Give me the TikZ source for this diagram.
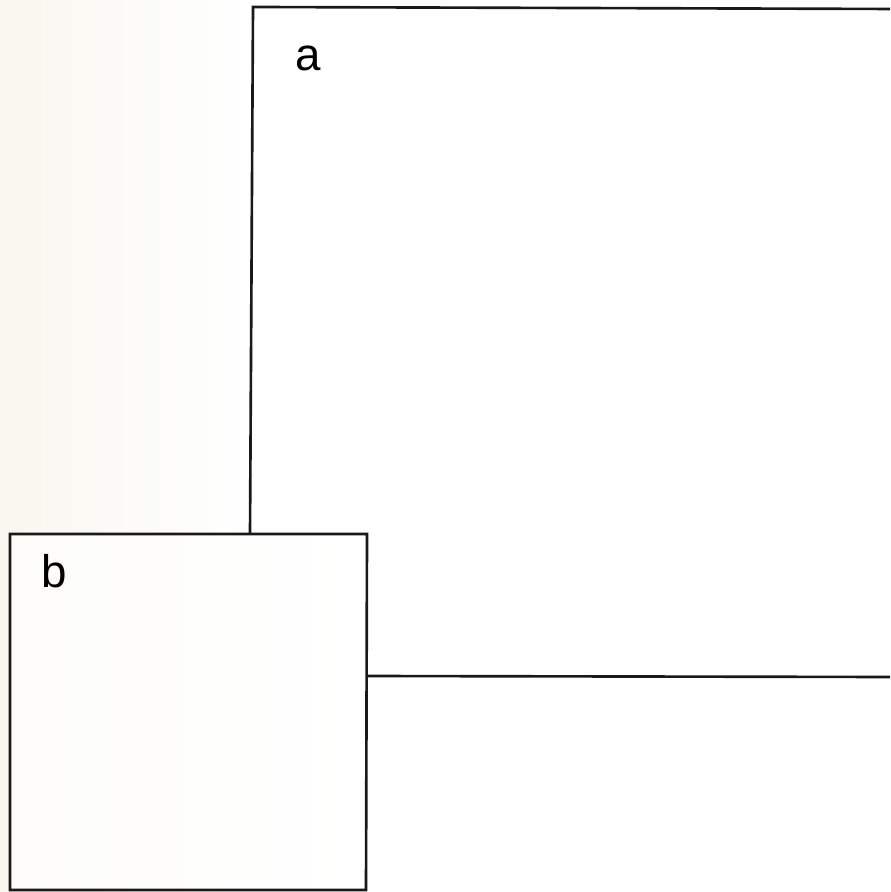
\documentclass[tikz,border=0pt]{standalone}
\usepackage{fontspec}
\setmainfont{Liberation Sans}
\definecolor{paper}{RGB}{248,246,238}
\definecolor{paperlight}{RGB}{253,252,249}
\begin{document}
\begin{tikzpicture}[x=0.01cm,y=-0.01cm,
  edge/.style={draw=black!90, line width=0.75pt, line join=miter},
  lbl/.style={font=\fontsize{13}{15}\selectfont, inner sep=0pt}]
\useasboundingbox (0,0) rectangle (890,892);
\clip (0,0) rectangle (890,892);
\fill[white] (0,0) rectangle (890,892);
\shade[left color=paper, right color=white] (0,0) rectangle (250,892);
% big box a
\coordinate (aTL) at (253,7);
\coordinate (aTR) at (895,9);
\coordinate (aBL) at (250,534);
\coordinate (aBR) at (895,677);
\coordinate (aBM) at (367,676);
\fill[white] (aTL) -- (aTR) -- (aBR) -- (aBM) -- (367,534) -- (aBL) -- cycle;
\draw[edge] (aBL) -- (aTL) -- (aTR);
\draw[edge] (aBM) -- (aBR);
% small box b
\coordinate (bTL) at (10,534);
\coordinate (bTR) at (367,534);
\coordinate (bBR) at (366,890);
\coordinate (bBL) at (10,890);
\shade[left color=paperlight, right color=white] (bTL) -- (bTR) -- (bBR) -- (bBL) -- cycle;
\draw[edge] (bTL) -- (bTR) -- (bBR) -- (bBL) -- cycle;
\node[lbl] (la) at (308,58) {a};
\node[lbl] (lb) at (54,571) {b};
\end{tikzpicture}
\end{document}
